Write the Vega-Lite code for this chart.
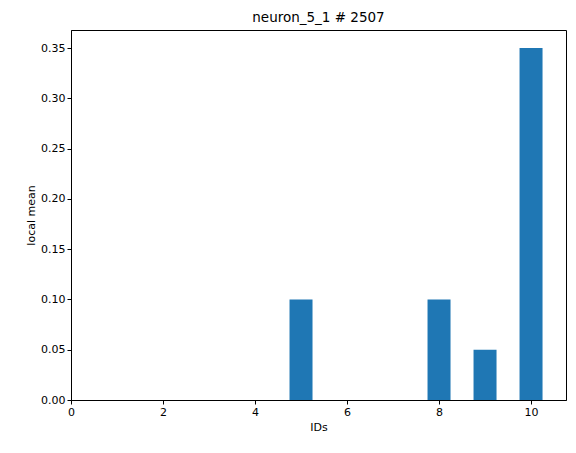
{
  "$schema": "https://vega.github.io/schema/vega-lite/v6.json",
  "width": 495,
  "height": 370,
  "autosize": "none",
  "padding": {"left": 71, "top": 30, "right": 10, "bottom": 53},
  "title": {"text": "neuron_5_1 # 2507", "fontSize": 13.5, "fontWeight": "normal", "font": "DejaVu Sans", "color": "black", "offset": 6},
  "config": {
    "view": {"stroke": "black", "strokeWidth": 1},
    "axis": {"grid": false, "domainColor": "black", "tickColor": "black", "labelColor": "black", "titleColor": "black", "labelFont": "DejaVu Sans", "titleFont": "DejaVu Sans", "labelFontSize": 11, "titleFontSize": 11, "titleFontWeight": "normal", "tickSize": 4}
  },
  "data": {"values": [
    {"id": 5, "lo": 4.75, "hi": 5.25, "value": 0.1},
    {"id": 8, "lo": 7.75, "hi": 8.25, "value": 0.1},
    {"id": 9, "lo": 8.75, "hi": 9.25, "value": 0.05},
    {"id": 10, "lo": 9.75, "hi": 10.25, "value": 0.35}
  ]},
  "mark": {"type": "rect", "color": "#1f77b4", "strokeWidth": 0},
  "encoding": {
    "x": {"field": "lo", "type": "quantitative", "scale": {"domain": [0, 10.76], "nice": false}, "axis": {"values": [0, 2, 4, 6, 8, 10], "title": "IDs", "labelFlush": false}},
    "x2": {"field": "hi"},
    "y": {"field": "value", "type": "quantitative", "scale": {"domain": [0, 0.368], "nice": false}, "axis": {"values": [0, 0.05, 0.1, 0.15, 0.2, 0.25, 0.3, 0.35], "format": ".2f", "title": "local mean", "labelFlush": false}},
    "y2": {"datum": 0}
  }
}
